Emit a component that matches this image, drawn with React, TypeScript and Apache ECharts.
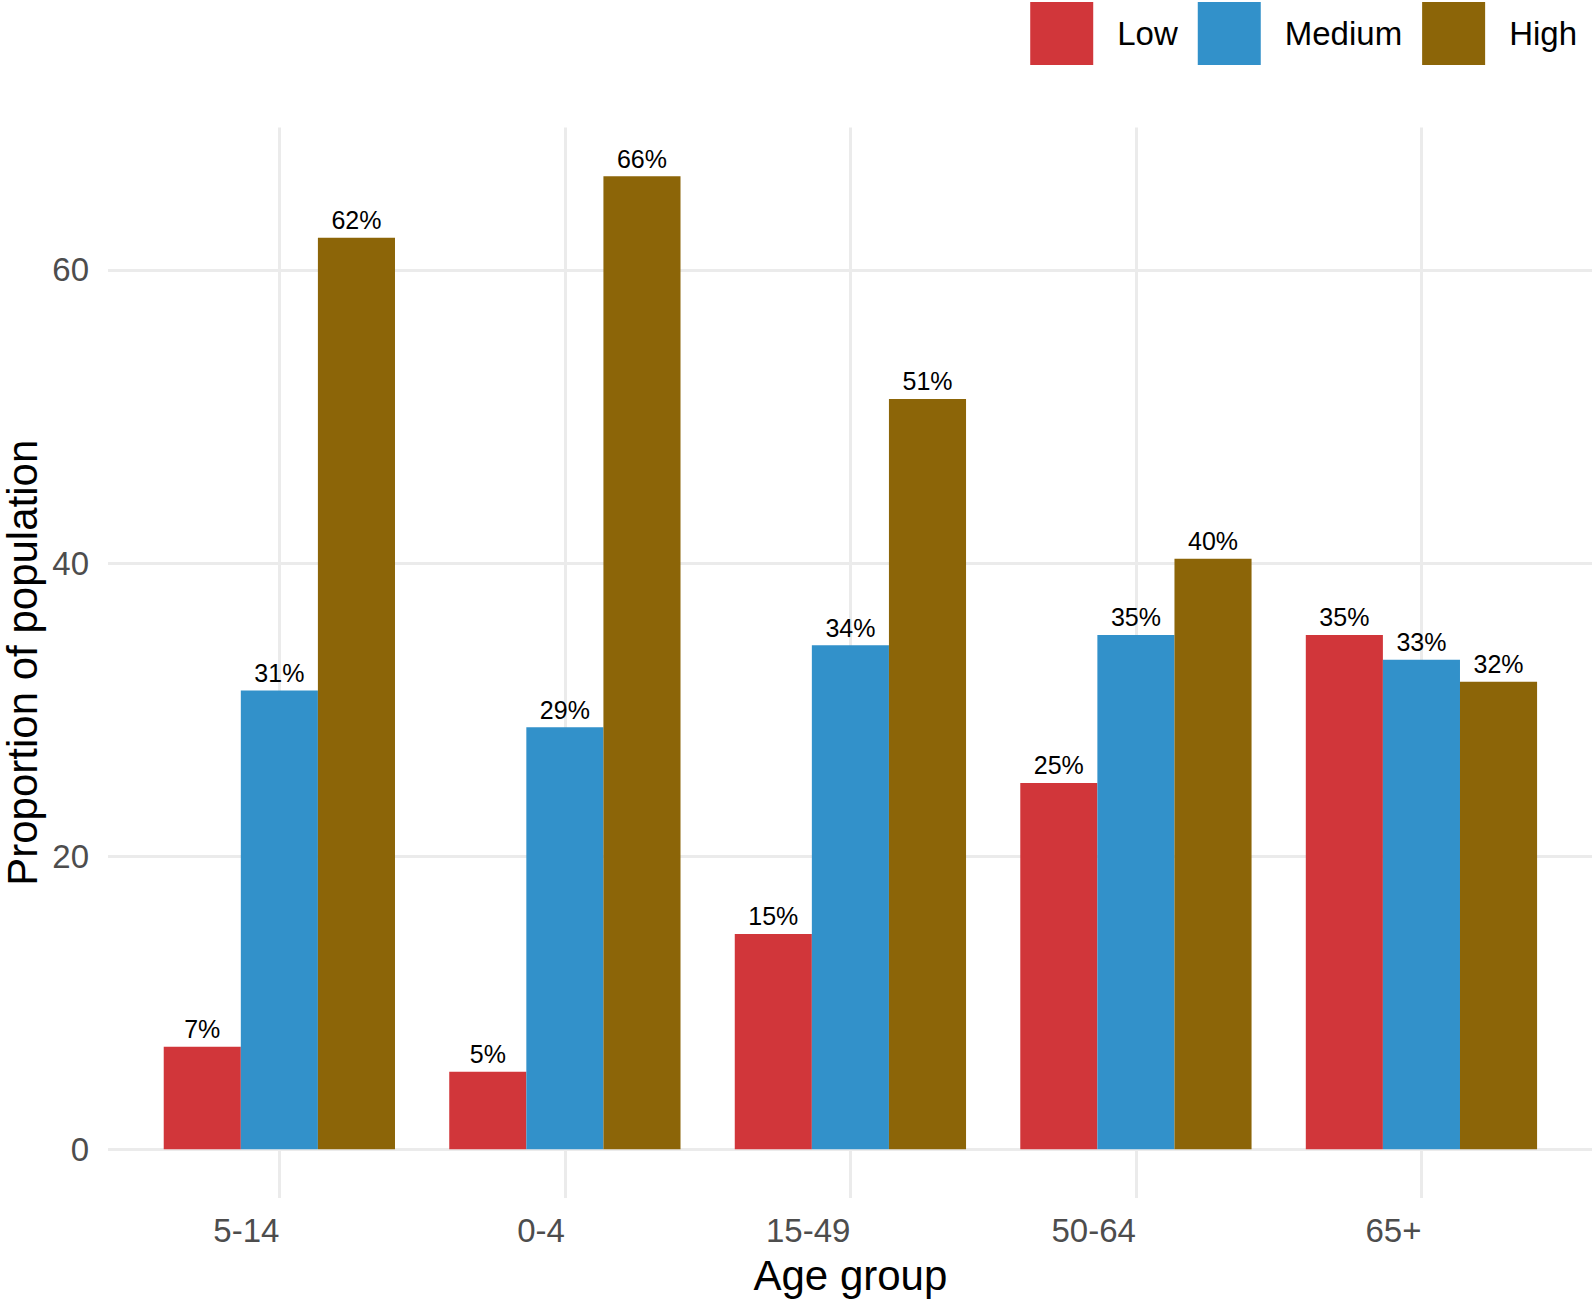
import { useEffect, useRef } from "react";
import * as echarts from "echarts";

const ageGroups = ["5-14", "0-4", "15-49", "50-64", "65+"];
const seriesNames = ["Low", "Medium", "High"];
const lowValues = [7.0, 5.3, 14.7, 25.0, 35.1];
const mediumValues = [31.3, 28.8, 34.4, 35.1, 33.4];
const highValues = [62.2, 66.4, 51.2, 40.3, 31.9];
const seriesColors = ["#D1363A", "#3291CA", "#8C6508"];
const yTickValues = [0, 20, 40, 60];

const FONT = "'Liberation Sans', Arial, sans-serif";
const GRID_COLOR = "#EBEBEB";

export default function App() {
  const chartRef = useRef<HTMLDivElement>(null);

  useEffect(() => {
    if (!chartRef.current) return;
    const chart = echarts.init(chartRef.current, null, { renderer: "svg" });

    const allValues = [...lowValues, ...mediumValues, ...highValues];
    const dataMax = Math.max(...allValues);
    // ggplot-style 5% expansion on both sides
    const yMin = -0.05 * dataMax;
    const yMax = dataMax * 1.05;

    const valueSets = [lowValues, mediumValues, highValues];

    const gridLineStyle = { color: GRID_COLOR, width: 3, type: "solid" };

    const series: any[] = valueSets.map((vals, i) => ({
      name: seriesNames[i],
      type: "bar",
      xAxisIndex: 1,
      yAxisIndex: 1,
      data: vals,
      barGap: "0%",
      barCategoryGap: "19%",
      itemStyle: { color: seriesColors[i] },
      z: 2,
      label: {
        show: true,
        position: "top",
        distance: 5,
        fontFamily: FONT,
        fontSize: 25,
        color: "#000000",
        formatter: (p: any) => Math.round(p.value) + "%",
      },
    }));

    // horizontal gridlines across the full panel
    series.push({
      name: "hgrid",
      type: "line",
      xAxisIndex: 0,
      yAxisIndex: 0,
      data: [],
      silent: true,
      z: 0,
      markLine: {
        silent: true,
        symbol: "none",
        z: 0,
        label: { show: false },
        lineStyle: gridLineStyle,
        emphasis: { disabled: true },
        data: yTickValues.map((v) => ({ yAxis: v })),
      },
    });

    // vertical gridlines at category centres
    series.push({
      name: "vgrid",
      type: "line",
      xAxisIndex: 1,
      yAxisIndex: 1,
      data: [],
      silent: true,
      z: 0,
      markLine: {
        silent: true,
        symbol: "none",
        z: 0,
        label: { show: false },
        lineStyle: gridLineStyle,
        emphasis: { disabled: true },
        data: ageGroups.map((g) => ({ xAxis: g })),
      },
    });

    chart.setOption({
      animation: false,
      backgroundColor: "#ffffff",
      textStyle: { fontFamily: FONT },
      legend: {
        data: seriesNames,
        right: 17,
        top: 2,
        padding: 0,
        icon: "rect",
        itemWidth: 63,
        itemHeight: 63,
        itemGap: 20,
        selectedMode: false,
        textStyle: {
          fontFamily: FONT,
          fontSize: 33,
          color: "#000000",
          padding: [0, 0, 0, 19],
        },
      },
      grid: [
        {
          left: 108,
          right: 2,
          top: 127.5,
          bottom: 103,
          containLabel: false,
          outerBoundsMode: "none",
        },
        {
          left: 136.6,
          right: 29.8,
          top: 127.5,
          bottom: 103,
          containLabel: false,
          outerBoundsMode: "none",
        },
      ],
      xAxis: [
        {
          type: "category",
          gridIndex: 0,
          data: ageGroups,
          show: false,
        },
        {
          type: "category",
          gridIndex: 1,
          data: ageGroups,
          name: "Age group",
          nameLocation: "middle",
          nameGap: 56,
          nameTextStyle: { fontFamily: FONT, fontSize: 42, color: "#000000" },
          axisLine: { show: false },
          axisTick: { show: false },
          splitLine: { show: false },
          axisLabel: {
            fontFamily: FONT,
            fontSize: 33,
            color: "#4D4D4D",
            align: "right",
            margin: 16,
          },
        },
      ],
      yAxis: [
        {
          type: "value",
          gridIndex: 0,
          min: yMin,
          max: yMax,
          splitNumber: 4,
          name: "Proportion of population",
          nameLocation: "middle",
          nameRotate: 90,
          nameGap: 65,
          nameMoveOverlap: false,
          nameTextStyle: { fontFamily: FONT, fontSize: 42, color: "#000000" },
          axisLine: { show: false },
          axisTick: { show: false },
          splitLine: { show: false },
          axisLabel: {
            fontFamily: FONT,
            fontSize: 33,
            color: "#4D4D4D",
            margin: 19,
            formatter: (v: number) => {
              const r = Math.round(v);
              return Math.abs(v - r) < 1e-6 && r % 20 === 0 ? String(Math.abs(r)) : "";
            },
          },
        },
        {
          type: "value",
          gridIndex: 1,
          min: yMin,
          max: yMax,
          show: false,
          splitLine: { show: false },
        },
      ],
      series,
    });

    return () => {
      chart.dispose();
    };
  }, []);

  return (
    <div
      ref={chartRef}
      style={{ position: "absolute", left: 0, top: 0, width: 1594, height: 1301 }}
    />
  );
}
